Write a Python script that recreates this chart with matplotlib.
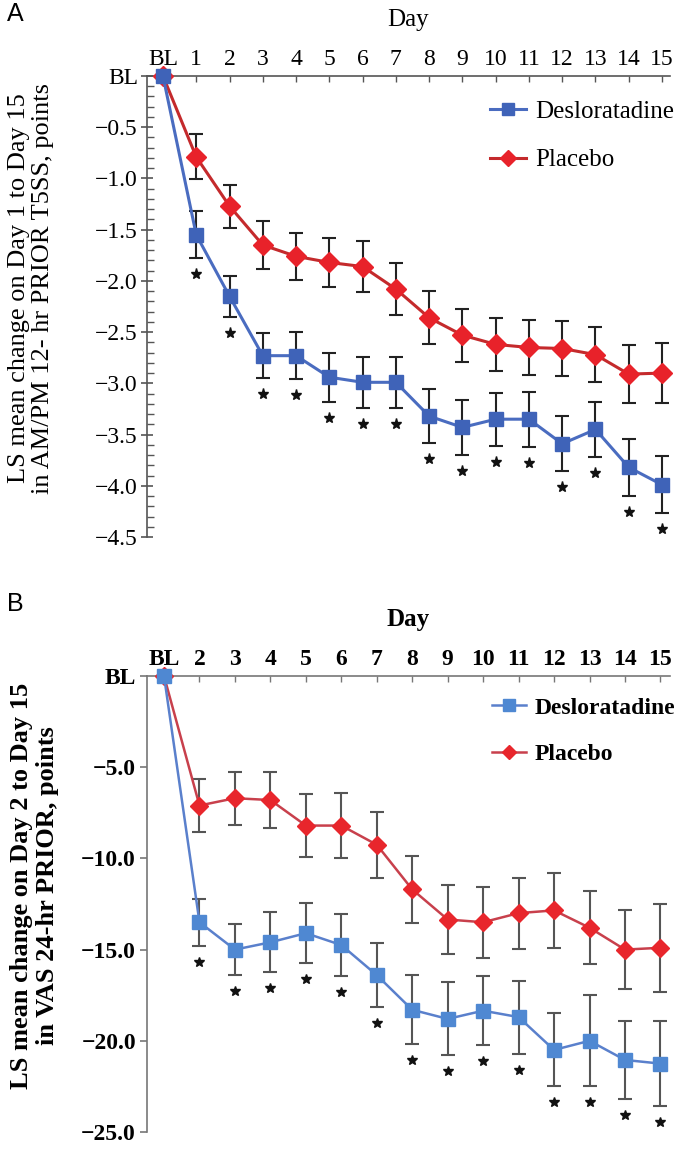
import matplotlib
matplotlib.use("Agg")
import matplotlib.pyplot as plt
import matplotlib.transforms as mtransforms
from matplotlib.ticker import MultipleLocator
import numpy as np

# ---------------- data ----------------
a_labels = ["BL"] + [str(d) for d in range(1, 16)]
a_deslo = [0, -1.55, -2.15, -2.73, -2.73, -2.94, -2.99, -2.99, -3.32, -3.43, -3.35, -3.35, -3.59, -3.45, -3.82, -3.99]
a_deslo_err = [0, 0.23, 0.20, 0.22, 0.23, 0.24, 0.25, 0.25, 0.26, 0.27, 0.26, 0.27, 0.27, 0.27, 0.28, 0.28]
a_placebo = [0, -0.79, -1.27, -1.65, -1.76, -1.82, -1.86, -2.08, -2.36, -2.53, -2.62, -2.65, -2.66, -2.72, -2.91, -2.90]
a_placebo_err = [0, 0.22, 0.21, 0.23, 0.23, 0.24, 0.25, 0.25, 0.26, 0.26, 0.26, 0.27, 0.27, 0.27, 0.28, 0.29]
a_sig = [False] + [True] * 15
a_yticks = [0, -0.5, -1.0, -1.5, -2.0, -2.5, -3.0, -3.5, -4.0, -4.5]
a_yticklabels = ["BL", "\u22120.5", "\u22121.0", "\u22121.5", "\u22122.0", "\u22122.5",
                 "\u22123.0", "\u22123.5", "\u22124.0", "\u22124.5"]

b_labels = ["BL"] + [str(d) for d in range(2, 16)]
b_deslo = [0, -13.5, -15.0, -14.6, -14.1, -14.75, -16.4, -18.3, -18.8, -18.35, -18.7, -20.5, -20.0, -21.05, -21.25]
b_deslo_err = [0, 1.3, 1.4, 1.65, 1.65, 1.7, 1.75, 1.9, 2.0, 1.9, 2.0, 2.0, 2.5, 2.15, 2.35]
b_placebo = [0, -7.1, -6.7, -6.8, -8.2, -8.2, -9.25, -11.7, -13.35, -13.5, -13.0, -12.85, -13.8, -15.0, -14.9]
b_placebo_err = [0, 1.45, 1.45, 1.55, 1.75, 1.8, 1.8, 1.85, 1.9, 1.95, 1.95, 2.05, 2.0, 2.15, 2.4]
b_sig = [False] + [True] * 14
b_yticks = [0, -5, -10, -15, -20, -25]
b_yticklabels = ["BL", "\u22125.0", "\u221210.0", "\u221215.0", "\u221220.0", "\u221225.0"]

# ---------------- figure ----------------
W, H = 685, 1149
fig = plt.figure(figsize=(W / 100, H / 100), dpi=100)
serif = "Liberation Serif"


def fx(px):
    return px / W


def fy(py):
    return 1 - py / H


def panel(rect, labels, deslo, deslo_err, placebo, placebo_err, sig, yticks, yticklabels,
          ylabel, xlim, ylim, bold, col, leg_anchor, leg_size, ylab_xy, minor, spine_col,
          err_col, star_size):
    ax = fig.add_axes(rect)
    x = np.arange(len(labels)) + (0 if labels[1] == "1" else 1)
    weight = "bold" if bold else "normal"
    # error bars
    ax.errorbar(x[1:], placebo[1:], yerr=placebo_err[1:], fmt="none", ecolor=err_col,
                elinewidth=1.5, capsize=5, capthick=1.5, zorder=2)
    ax.errorbar(x[1:], deslo[1:], yerr=deslo_err[1:], fmt="none", ecolor=err_col,
                elinewidth=1.5, capsize=5, capthick=1.5, zorder=2)
    lp, = ax.plot(x, placebo, color=col["pl_line"], lw=col["lw"], marker="D", ms=col["ms_d"],
                  mfc=col["pl_mk"], mec=col["pl_mk"], label="Placebo", zorder=3, clip_on=False)
    ld, = ax.plot(x, deslo, color=col["de_line"], lw=col["lw"], marker="s", ms=col["ms_s"],
                  mfc=col["de_mk"], mec=col["de_mk"], label="Desloratadine", zorder=4,
                  clip_on=False)
    # significance stars
    off = mtransforms.offset_copy(ax.transData, fig=fig, x=0, y=-11.5, units="points")
    sx = [xi for xi, s in zip(x, sig) if s]
    sy = [d - e for d, e, s in zip(deslo, deslo_err, sig) if s]
    ax.plot(sx, sy, linestyle="none", marker="*", ms=star_size, color="#111111",
            transform=off, zorder=5)

    ax.set_xlim(*xlim)
    ax.set_ylim(*ylim)
    for s in ["bottom", "right"]:
        ax.spines[s].set_visible(False)
    for s in ["top", "left"]:
        ax.spines[s].set_color(spine_col)
        ax.spines[s].set_linewidth(1.2)
    ax.xaxis.tick_top()
    ax.xaxis.set_label_position("top")
    ax.set_xticks(x)
    ax.set_xticklabels(labels, fontfamily=serif, fontsize=17, fontweight=weight)
    ax.tick_params(axis="x", direction="in", length=4, width=1, color=spine_col, pad=4)
    ax.set_yticks(yticks)
    ax.set_yticklabels(yticklabels, fontfamily=serif, fontsize=17, fontweight=weight)
    if minor:
        ax.yaxis.set_minor_locator(MultipleLocator(0.1))
        ax.tick_params(axis="y", which="major", direction="inout", length=9, width=1.2,
                       color=spine_col, pad=2)
        ax.tick_params(axis="y", which="minor", direction="in", length=5, width=1,
                       color=spine_col)
    else:
        ax.tick_params(axis="y", which="major", direction="out", length=5, width=1.2,
                       color=spine_col, pad=3)
    ax.set_xlabel("Day", fontfamily=serif, fontsize=18, fontweight=weight, labelpad=17)
    ax.set_ylabel(ylabel, fontfamily=serif, fontsize=19, fontweight=weight, va="center",
                  linespacing=1.15)
    ax.yaxis.set_label_coords(*ylab_xy)
    ax.legend(handles=[ld, lp], loc="upper left", bbox_to_anchor=leg_anchor,
              bbox_transform=fig.transFigure, frameon=False, borderpad=0, borderaxespad=0,
              handlelength=1.45, handletextpad=0.35, labelspacing=1.05, markerscale=0.8,
              prop={"family": serif, "size": leg_size, "weight": weight})
    return ax


# ---- Panel A ----
left, right = 147, 670
colA = dict(pl_line="#c42a2c", pl_mk="#e8222a", de_line="#4a6cc0", de_mk="#3f63b8",
            lw=2.2, ms_d=10, ms_s=10)
axA = panel([fx(left), fy(537), fx(right) - fx(left), fy(76) - fy(537)],
            a_labels, a_deslo, a_deslo_err, a_placebo, a_placebo_err, a_sig,
            a_yticks, a_yticklabels,
            "LS mean change on Day 1 to Day 15\nin AM/PM 12- hr PRIOR T5SS, points",
            (-0.48, 15.24), (-4.5, 0), False, colA, (fx(490), fy(100)), 18,
            (-0.222, 0.54), True, "#555555", "#222222", 8)

# ---- Panel B ----
colB = dict(pl_line="#c8404c", pl_mk="#e8262c", de_line="#5a80cc", de_mk="#4f88d2",
            lw=1.8, ms_d=9, ms_s=10)
axB = panel([fx(left), fy(1132), fx(right) - fx(left), fy(676) - fy(1132)],
            b_labels, b_deslo, b_deslo_err, b_placebo, b_placebo_err, b_sig,
            b_yticks, b_yticklabels,
            "LS mean change on Day 2 to Day 15\nin VAS 24-hr PRIOR, points",
            (0.52, 15.27), (-25, 0), True, colB, (fx(492), fy(697)), 17,
            (-0.215, 0.54), False, "#777777", "#555555", 7)

fig.text(fx(7), fy(14), "A", fontfamily="Liberation Sans", fontsize=18, va="center", ha="left")
fig.text(fx(7), fy(604), "B", fontfamily="Liberation Sans", fontsize=18, va="center", ha="left")

fig.savefig("out.png", dpi=100)
